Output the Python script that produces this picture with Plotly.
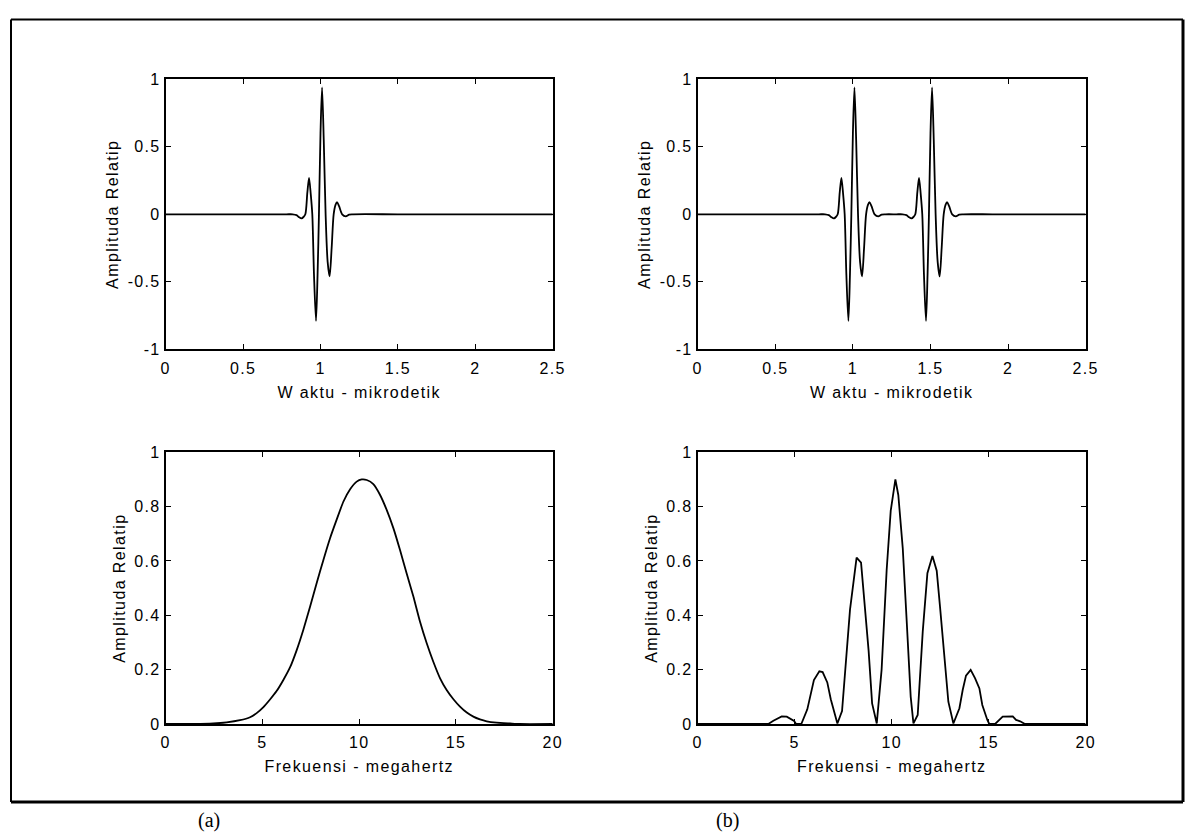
import plotly.graph_objects as go

W, H = 1190, 835

# ---------------- data ----------------
# (a) top: single pulse, time in microseconds
t_single = [0, 0.3, 0.6, 0.78, 0.82, 0.845, 0.862, 0.878, 0.89, 0.902, 0.915, 0.926,
            0.937, 0.947, 0.958, 0.971, 0.981, 0.99, 1.0, 1.01, 1.021, 1.033, 1.046,
            1.059, 1.072, 1.085, 1.097, 1.107, 1.12, 1.14, 1.163, 1.185, 1.21, 1.5,
            1.9, 2.2, 2.5]
a_single = [0, 0, 0, 0, 0, -0.006, -0.022, -0.03, -0.02, 0.0, 0.16, 0.27,
            0.15, 0.0, -0.45, -0.79, -0.45, 0.0, 0.6, 0.94, 0.55, 0.0, -0.35,
            -0.46, -0.25, 0.0, 0.07, 0.09, 0.06, 0.0, -0.015, -0.002, 0, 0,
            0, 0, 0]

# (b) top: two pulses
t_double = [0, 0.3, 0.6, 0.78, 0.82, 0.845, 0.862, 0.878, 0.89, 0.902, 0.915, 0.926,
            0.937, 0.947, 0.958, 0.971, 0.981, 0.99, 1.0, 1.01, 1.021, 1.033, 1.046,
            1.059, 1.072, 1.085, 1.097, 1.107, 1.12, 1.14, 1.163, 1.185, 1.21,
            1.28, 1.32, 1.345, 1.362, 1.378, 1.39, 1.402, 1.415, 1.426,
            1.437, 1.447, 1.458, 1.471, 1.481, 1.49, 1.5, 1.51, 1.521, 1.533, 1.546,
            1.559, 1.572, 1.585, 1.597, 1.607, 1.62, 1.64, 1.663, 1.685, 1.71, 1.9,
            2.2, 2.5]
a_double = [0, 0, 0, 0, 0, -0.006, -0.022, -0.03, -0.02, 0.0, 0.16, 0.27,
            0.15, 0.0, -0.45, -0.79, -0.45, 0.0, 0.6, 0.94, 0.55, 0.0, -0.35,
            -0.46, -0.25, 0.0, 0.07, 0.09, 0.06, 0.0, -0.015, -0.002, 0,
            0, 0, -0.006, -0.022, -0.03, -0.02, 0.0, 0.16, 0.27,
            0.15, 0.0, -0.45, -0.79, -0.45, 0.0, 0.6, 0.94, 0.55, 0.0, -0.35,
            -0.46, -0.25, 0.0, 0.07, 0.09, 0.06, 0.0, -0.015, -0.002, 0, 0,
            0, 0]

# (a) bottom: spectrum of single pulse, frequency in MHz
f_single = [0, 1.5, 2.46, 3.15, 3.84, 4.36, 4.7, 5.05, 5.39, 5.74, 6.08, 6.43,
            6.77, 7.11, 7.46, 7.8, 8.15, 8.49, 8.84, 9.18, 9.53, 9.87, 10.13,
            10.39, 10.73, 11.08, 11.42, 11.77, 12.11, 12.45, 12.8, 13.14, 13.49,
            13.83, 14.18, 14.52, 14.87, 15.21, 15.56, 15.9, 16.24, 16.59, 17.1,
            17.8, 18.3, 20]
s_single = [0, 0, 0.002, 0.006, 0.014, 0.025, 0.04, 0.062, 0.09, 0.122, 0.162, 0.209,
            0.272, 0.346, 0.432, 0.518, 0.604, 0.683, 0.753, 0.818, 0.864, 0.892, 0.9,
            0.898, 0.883, 0.843, 0.788, 0.72, 0.64, 0.555, 0.469, 0.377, 0.297,
            0.229, 0.168, 0.125, 0.091, 0.064, 0.042, 0.027, 0.017, 0.01, 0.005,
            0.002, 0, 0]

# (b) bottom: spectrum of double pulse
f_double = [0, 3.64, 3.9, 4.33, 4.59, 4.97, 5.07, 5.34, 5.65, 5.99, 6.27, 6.44,
            6.68, 6.86, 7.2, 7.44, 7.85, 8.19, 8.42, 8.57, 8.81, 8.99, 9.23,
            9.48, 9.74, 9.95, 10.19, 10.34, 10.57, 10.77, 10.98, 11.12, 11.34,
            11.6, 11.84, 12.1, 12.32, 12.49, 12.7, 12.92, 13.18, 13.49, 13.66,
            13.83, 14.07, 14.3, 14.52, 14.67, 14.93, 15.03, 15.33, 15.72, 16.24,
            16.41, 16.62, 16.87, 20]
s_double = [0, 0, 0.012, 0.028, 0.027, 0.011, 0, 0, 0.054, 0.162, 0.194, 0.191,
            0.153, 0.091, 0.002, 0.048, 0.42, 0.612, 0.594, 0.47, 0.27, 0.076, 0.002,
            0.2, 0.567, 0.785, 0.9, 0.843, 0.647, 0.383, 0.1, 0.002, 0.033,
            0.34, 0.555, 0.618, 0.564, 0.432, 0.266, 0.082, 0.002, 0.058, 0.125,
            0.178, 0.199, 0.168, 0.131, 0.07, 0.015, 0, 0, 0.027, 0.028,
            0.015, 0.01, 0, 0]

x_time_ticks = [0, 0.5, 1, 1.5, 2, 2.5]
x_time_labels = ["0", "0.5", "1", "1.5", "2", "2.5"]
y_time_ticks = [-1, -0.5, 0, 0.5, 1]
y_time_labels = ["-1", "-0.5", "0", "0.5", "1"]
x_freq_ticks = [0, 5, 10, 15, 20]
x_freq_labels = ["0", "5", "10", "15", "20"]
y_freq_ticks = [0, 0.2, 0.4, 0.6, 0.8, 1]
y_freq_labels = ["0", "0.2", "0.4", "0.6", "0.8", "1"]

x_time_title = "W aktu - mikrodetik"
x_freq_title = "Frekuensi - megahertz"
y_title = "Amplituda Relatip"
panel_labels = ["(a)", "(b)"]

# ---------------- layout helpers ----------------
FONT = "Liberation Sans"


def sp(s, ls=1.4):
    return f'<span style="letter-spacing:{ls}px">{s}</span>'


def px_x(p):
    return p / W


def px_y(p):
    return 1 - p / H


def axis(domain, rng, tickvals, ticklabels, title, anchor, standoff, labelpad):
    return dict(
        domain=domain, range=rng, anchor=anchor,
        tickmode="array", tickvals=tickvals,
        ticktext=[sp(t, 1.3) for t in ticklabels],
        ticks="inside", ticklen=5, tickwidth=1.2, tickcolor="black",
        ticklabelstandoff=labelpad,
        showline=True, linewidth=2, linecolor="black", mirror="ticks",
        showgrid=False, zeroline=False, automargin=False, fixedrange=True,
        tickfont=dict(family=FONT, size=16, color="black"),
        title=dict(text=sp(title, 1.4), standoff=standoff,
                   font=dict(family=FONT, size=16, color="black")),
    )


xl = [px_x(165.7), px_x(552.7)]
xr = [px_x(697.7), px_x(1085.7)]
yt = [px_y(349.3), px_y(79.3)]
yb = [px_y(724.0), px_y(452.3)]

fig = go.Figure()
line = dict(color="black", width=1.8)
fig.add_trace(go.Scatter(x=t_single, y=a_single, mode="lines", line=dict(**line, shape="spline", smoothing=0.8),
                         xaxis="x", yaxis="y", showlegend=False))
fig.add_trace(go.Scatter(x=t_double, y=a_double, mode="lines", line=dict(**line, shape="spline", smoothing=0.8),
                         xaxis="x2", yaxis="y2", showlegend=False))
fig.add_trace(go.Scatter(x=f_single, y=s_single, mode="lines", line=dict(**line, shape="spline", smoothing=0.5),
                         xaxis="x3", yaxis="y3", showlegend=False))
fig.add_trace(go.Scatter(x=f_double, y=s_double, mode="lines", line=line,
                         xaxis="x4", yaxis="y4", showlegend=False))

fig.update_layout(
    width=W, height=H, margin=dict(l=0, r=0, t=0, b=0),
    paper_bgcolor="white", plot_bgcolor="white", showlegend=False,
    font=dict(family=FONT, color="black"),
    xaxis=axis(xl, [0, 2.5], x_time_ticks, x_time_labels, x_time_title, "y", 11, 3),
    yaxis=axis(yt, [-1, 1], y_time_ticks, y_time_labels, y_title, "x", 5, 0),
    xaxis2=axis(xr, [0, 2.5], x_time_ticks, x_time_labels, x_time_title, "y2", 11, 3),
    yaxis2=axis(yt, [-1, 1], y_time_ticks, y_time_labels, y_title, "x2", 5, 0),
    xaxis3=axis(xl, [0, 20], x_freq_ticks, x_freq_labels, x_freq_title, "y3", 11, 3),
    yaxis3=axis(yb, [0, 1], y_freq_ticks, y_freq_labels, y_title, "x3", 5, 0),
    xaxis4=axis(xr, [0, 20], x_freq_ticks, x_freq_labels, x_freq_title, "y4", 11, 3),
    yaxis4=axis(yb, [0, 1], y_freq_ticks, y_freq_labels, y_title, "x4", 5, 0),
)

# outer frame
fx0, fx1, fy0, fy1 = px_x(11), px_x(1183), px_y(802), px_y(19.5)
fig.add_shape(type="line", xref="paper", yref="paper", x0=fx0, x1=fx1, y0=fy1, y1=fy1, line=dict(color="black", width=2))
fig.add_shape(type="line", xref="paper", yref="paper", x0=fx0, x1=fx0, y0=fy0, y1=fy1, line=dict(color="black", width=2))
fig.add_shape(type="line", xref="paper", yref="paper", x0=fx1, x1=fx1, y0=fy0, y1=fy1, line=dict(color="black", width=3))
fig.add_shape(type="line", xref="paper", yref="paper", x0=fx0, x1=fx1, y0=fy0, y1=fy0, line=dict(color="black", width=3))

for lab, cx in zip(panel_labels, [209, 727]):
    fig.add_annotation(text=lab, xref="paper", yref="paper", x=px_x(cx), y=px_y(820),
                       xanchor="center", yanchor="middle", showarrow=False,
                       font=dict(family="Liberation Serif", size=20, color="black"))

fig.write_html("out.html")
